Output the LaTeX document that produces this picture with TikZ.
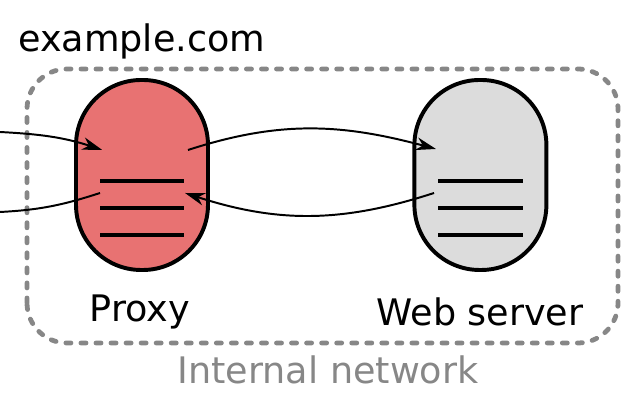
\documentclass[tikz,border=0pt]{standalone}
\usepackage{fontspec}
\setmainfont{DejaVu Sans}
\usetikzlibrary{arrows.meta,calc,positioning}
\definecolor{ProxyRed}{HTML}{E87272}
\definecolor{ServerGray}{HTML}{DCDCDC}
\definecolor{NetGray}{HTML}{878787}
\tikzset{
  host/.style={
    rounded corners=1.63cm, draw=black, line width=2.8pt,
    minimum width=3.3cm, minimum height=4.75cm, inner sep=0pt
  },
  netbox/.style={
    rounded corners=1cm, draw=NetGray, line width=3.4pt,
    line cap=round, dash pattern=on 3.6pt off 7.1pt
  },
  rack/.style={line width=2.8pt, draw=black},
  msg/.style={-{Stealth[length=5mm,width=3.2mm,inset=1.6mm]}, line width=1.4pt, draw=black},
  plainmsg/.style={line width=1.4pt, draw=black},
  label/.style={anchor=base, font=\fontsize{26}{30}\selectfont}
}

\begin{document}
\begin{tikzpicture}[x=1cm,y=1cm]
    \useasboundingbox (0,0) rectangle (16,10);
    \draw[netbox] (0.675,1.425) rectangle (15.45,8.275);

    \node[host,fill=ProxyRed] (proxy) at (3.55,5.625) {};
    \node[host,fill=ServerGray] (web) at (12.01,5.625) {};

    \draw[rack] ([xshift=-1.05cm,yshift=-0.15cm]proxy.center) -- ++(2.1,0);
    \draw[rack] ([xshift=-1.05cm,yshift=-0.825cm]proxy.center) -- ++(2.1,0);
    \draw[rack] ([xshift=-1.05cm,yshift=-1.5cm]proxy.center) -- ++(2.1,0);
    \draw[rack] ([xshift=-1.06cm,yshift=-0.15cm]web.center) -- ++(2.12,0);
    \draw[rack] ([xshift=-1.06cm,yshift=-0.825cm]web.center) -- ++(2.12,0);
    \draw[rack] ([xshift=-1.06cm,yshift=-1.5cm]web.center) -- ++(2.12,0);

    \node[label,anchor=base west] (site) at (0.33,8.7) {example.com};
    \node[label] (proxylbl) at (3.5,1.95) {Proxy};
    \node[label] (weblbl) at (12.0,1.85) {Web server};
    \node[label,text=NetGray] (netlbl) at (8.2,0.4) {Internal network};

    \coordinate (clientin) at (0,6.7);
    \coordinate (clientout) at (0,4.7);

    \draw[msg] (clientin) to[out=-3,in=162]
      ([xshift=-1.0cm,yshift=0.63cm]proxy.center);
    \draw[plainmsg] ([xshift=-1.05cm,yshift=-0.45cm]proxy.center)
      to[out=198,in=3] (clientout);
    \draw[msg] ([xshift=1.15cm,yshift=0.625cm]proxy.center) to[out=18,in=165]
      ([xshift=-1.11cm,yshift=0.65cm]web.center);
    \draw[msg] ([xshift=-1.16cm,yshift=-0.45cm]web.center) to[out=198,in=-18]
      ([xshift=1.075cm,yshift=-0.45cm]proxy.center);
  \end{tikzpicture}
\end{document}
